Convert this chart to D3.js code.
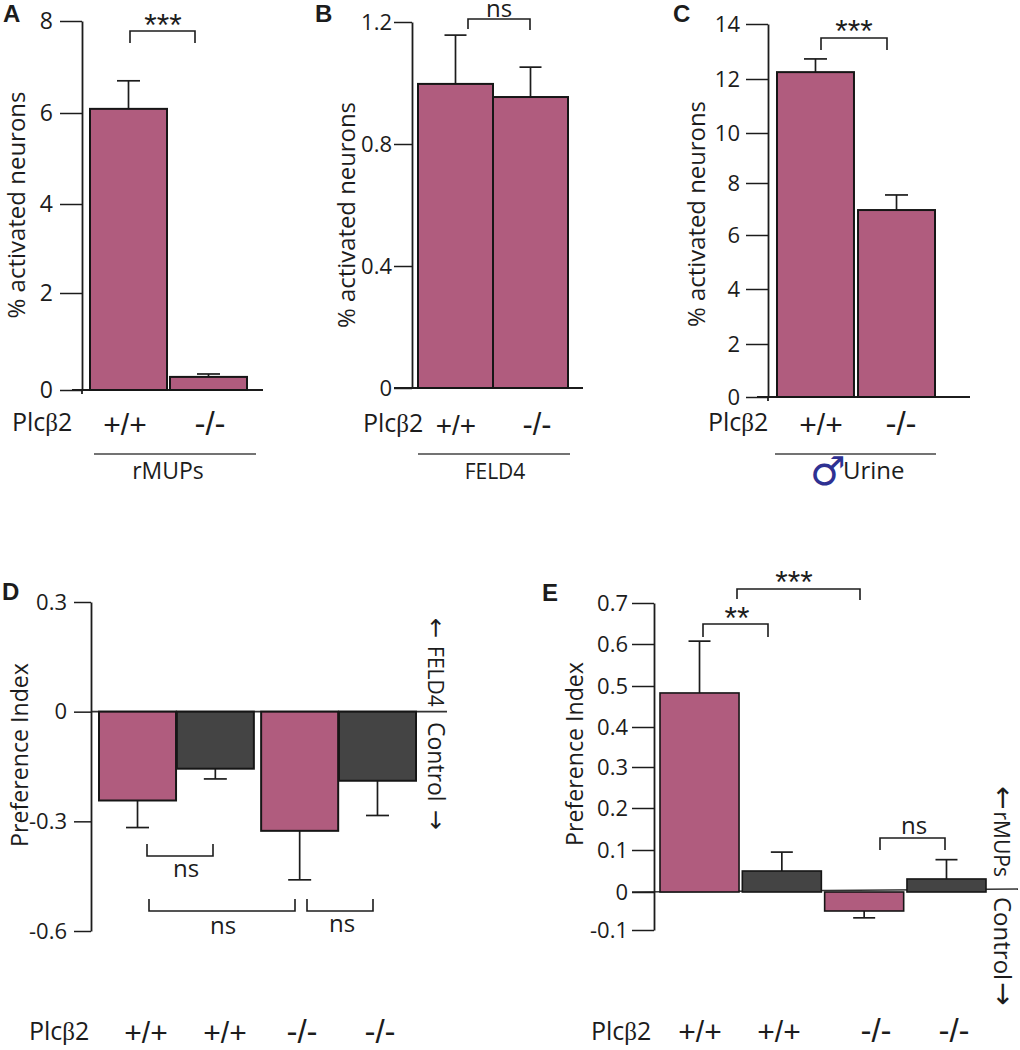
<!DOCTYPE html>
<html><head><meta charset="utf-8">
<script src="https://cdn.jsdelivr.net/npm/d3@7/dist/d3.min.js"></script>
<style>
html,body{margin:0;padding:0;background:#fff}
svg{display:block}
text{font-family:"Open Sans","Noto Sans",sans-serif;fill:#1c1c1c}
</style></head><body><div id="c"></div>
<script>
// ---------- data ----------
const genotypes2 = ['+/+', '-/-'];
const genotypes4 = ['+/+', '+/+', '-/-', '-/-'];

const aTicks = [0, 2, 4, 6, 8];
const aValues = [6.09, 0.27];
const aErrorTops = [6.70, 0.33];

const bTicks = [0, 0.4, 0.8, 1.2];
const bValues = [0.997, 0.954];
const bErrorTops = [1.157, 1.052];

const cTicks = [0, 2, 4, 6, 8, 10, 12, 14];
const cValues = [12.25, 6.96];
const cErrorTops = [12.73, 7.54];

const dTicks = [0.3, 0, -0.3, -0.6];
const dValues = [-0.243, -0.156, -0.326, -0.189];
const dErrorEnds = [-0.317, -0.184, -0.46, -0.284];

const eTicks = [0.7, 0.6, 0.5, 0.4, 0.3, 0.2, 0.1, 0, -0.1];
const eValues = [0.483, 0.05, -0.05, 0.031];
const eErrorEnds = [0.607, 0.095, -0.068, 0.077];

const PINK = '#b05c7e', DARK = '#444444', INK = '#1c1c1c';

const svg = d3.select('#c').append('svg').attr('width', 1020).attr('height', 1050);

function txt(x, y, s, size, opt = {}) {
  const t = svg.append('text').attr('x', x).attr('y', y)
    .attr('text-anchor', opt.anchor || 'middle').attr('font-size', size).text(s);
  if (opt.weight) t.attr('font-weight', opt.weight).style('font-family', '"Liberation Sans",Arial,sans-serif');
  if (opt.rot !== undefined) t.attr('transform', `rotate(${opt.rot} ${x} ${y})`);
  if (opt.len) t.attr('textLength', opt.len).attr('lengthAdjust', 'spacingAndGlyphs');
  return t;
}
// Side labels: text rotated a quarter turn, with an arrow glyph from DejaVu.
function side(x, y, parts) {
  const t = svg.append('text').attr('x', x).attr('y', y).attr('text-anchor', 'start')
    .attr('transform', `rotate(90 ${x} ${y})`);
  parts.forEach(p => {
    const s = t.append('tspan').attr('font-size', p.size).text(p.s);
    if (p.dx) s.attr('dx', p.dx);
    if (p.arrow) s.style('font-family', '"DejaVu Sans",sans-serif');
  });
}
function plc(x, y) {
  const t = svg.append('text').attr('x', x).attr('y', y).attr('font-size', 25);
  t.append('tspan').text('Plc');
  t.append('tspan').text('\u03b2').style('font-family', '"Liberation Serif",serif');
  t.append('tspan').text('2');
}
function stars(x, y, s) {
  svg.append('text').attr('x', x).attr('y', y).attr('text-anchor', 'middle')
    .attr('font-size', 32).style('font-family', '"Liberation Sans",sans-serif').text(s);
}
function geno(cx, y, s, scale = 1) {
  svg.append('text').attr('x', cx).attr('y', y).attr('text-anchor', 'middle')
    .attr('font-size', (s === '-/-' ? 33 : 30) * scale)
    .style('font-family', '"Liberation Sans",sans-serif').text(s);
}
function bracket(x0, x1, yBar, yEnd0, yEnd1) {
  const p = d3.path();
  p.moveTo(x0, yEnd0); p.lineTo(x0, yBar); p.lineTo(x1, yBar); p.lineTo(x1, yEnd1);
  svg.append('path').attr('d', p.toString()).attr('fill', 'none').attr('stroke', INK).attr('stroke-width', 1.6);
}
function hline(x0, x1, y, color = '#333', w = 1.6, y1 = y) {
  svg.append('line').attr('x1', x0).attr('x2', x1).attr('y1', y).attr('y2', y1)
    .attr('stroke', color).attr('stroke-width', w);
}

function panel(o) {
  const y = o.y;
  const axis = d3.axisLeft(y).tickValues(o.ticks).tickSize(o.tickLen).tickSizeOuter(0)
    .tickPadding(o.pad).tickFormat(d => String(d));
  const g = svg.append('g').attr('transform', `translate(${o.axisX},0)`).call(axis);
  g.selectAll('path.domain').attr('stroke', INK).attr('stroke-width', 1.8);
  g.selectAll('.tick line').attr('stroke', INK).attr('stroke-width', 1.5);
  g.selectAll('.tick text').attr('font-size', o.tickFont || 22)
    .style('font-family', '"Open Sans",sans-serif').attr('fill', INK);

  const marks = svg.append('g');
  const cap = o.cap;
  o.values.forEach((v, i) => {
    const cx = o.x(i) + o.w / 2, e = o.errs[i];
    marks.append('line').attr('x1', cx).attr('x2', cx).attr('y1', y(v)).attr('y2', y(e))
      .attr('stroke', INK).attr('stroke-width', 1.7);
    marks.append('line').attr('x1', cx - cap).attr('x2', cx + cap).attr('y1', y(e)).attr('y2', y(e))
      .attr('stroke', INK).attr('stroke-width', 1.7);
  });
  marks.selectAll('rect').data(o.values).join('rect')
    .attr('x', (d, i) => o.x(i)).attr('width', o.w)
    .attr('y', d => Math.min(y(d), y(0)))
    .attr('height', d => Math.abs(y(d) - y(0)))
    .attr('fill', (d, i) => o.colors[i]).attr('stroke', '#161616').attr('stroke-width', o.sw || 2);
}

const band = (n, r0, r1, pi) => d3.scaleBand().domain(d3.range(n)).range([r0, r1]).paddingInner(pi);

// ---------- A ----------
{
  const y = d3.scaleLinear().domain(aTicks).range([390, 293, 204, 113, 21]);
  const xb = band(2, 90, 247, 0.0375);
  hline(72, 263, y(0), INK, 1.8);
  hline(82, 82, y(0), INK, 1.8, y(0) + 4);
  panel({ y, ticks: aTicks, values: aValues, errs: aErrorTops, axisX: 82, tickLen: 22, pad: 7, tickFont: 23,
          x: xb, w: xb.bandwidth(), cap: 11.5, colors: [PINK, PINK] });
  txt(3, 22, 'A', 24, { anchor: 'start', weight: 'bold' });
  txt(25, 205, '% activated neurons', 23, { rot: -90, len: 227 });
  bracket(130, 195, 31, 43, 43);
  stars(163, 36, '***');
  plc(12, 431);
  geno(125, 435, genotypes2[0]); geno(210, 435, genotypes2[1]);
  hline(94, 256, 454, '#444', 1.5);
  txt(168, 479, 'rMUPs', 23);
}
// ---------- B ----------
{
  const y = d3.scaleLinear().domain([0, 1.2]).range([388, 22]);
  const xb = band(2, 418, 568, 0);
  hline(394, 583, y(0), INK, 1.8);
  panel({ y, ticks: bTicks, values: bValues, errs: bErrorTops, axisX: 412, tickLen: 18, pad: 2, tickFont: 22,
          x: xb, w: xb.bandwidth(), cap: 11, colors: [PINK, PINK] });
  txt(315, 22, 'B', 24, { anchor: 'start', weight: 'bold' });
  txt(355, 215, '% activated neurons', 24, { rot: -90, len: 226 });
  bracket(468, 530, 19, 29, 30);
  txt(499, 17, 'ns', 24);
  plc(363, 432);
  geno(456, 435, genotypes2[0], 0.93); geno(537, 435, genotypes2[1], 0.93);
  hline(418, 570, 454, '#444', 1.5);
  txt(495, 479, 'FELD4', 21);
}
// ---------- C ----------
{
  const y = d3.scaleLinear().domain(cTicks).range([397, 344, 289, 235, 183, 133, 79, 24]);
  const xb = band(2, 777, 935, 0.05);
  hline(757, 970, y(0), INK, 1.8);
  hline(768, 768, y(0), INK, 1.8, y(0) + 4);
  panel({ y, ticks: cTicks, values: cValues, errs: cErrorTops, axisX: 768, tickLen: 22, pad: 6, tickFont: 22,
          x: xb, w: xb.bandwidth(), cap: 11.5, colors: [PINK, PINK] });
  txt(673, 22, 'C', 24, { anchor: 'start', weight: 'bold' });
  txt(705, 214, '% activated neurons', 24, { rot: -90, len: 226 });
  bracket(821, 887, 38, 50, 50);
  stars(854, 42, '***');
  plc(708, 431);
  geno(821, 435, genotypes2[0]); geno(901, 435, genotypes2[1]);
  hline(775, 936, 454, '#444', 1.5);
  svg.append('text').attr('x', 810).attr('y', 485).attr('font-size', 40)
    .style('font-family', '"DejaVu Sans",sans-serif').style('fill', '#2e3192').attr('font-weight', 'bold').text('\u2642');
  txt(843, 479, 'Urine', 24, { anchor: 'start' });
}
// ---------- D ----------
{
  const y = d3.scaleLinear().domain([-0.6, 0.3]).range([931, 602]);
  const outer = d3.scaleBand().domain([0, 1]).range([99, 416]).paddingInner(0.045);
  const inner = d3.scaleBand().domain([0, 1]).range([0, outer.bandwidth()]).paddingInner(0.01);
  const x = i => outer(Math.floor(i / 2)) + inner(i % 2);
  hline(91, 447, y(0), '#333', 1.6);
  panel({ y, ticks: dTicks, values: dValues, errs: dErrorEnds, axisX: 91, tickLen: 17, pad: 7, tickFont: 22,
          x, w: inner.bandwidth(), cap: 11.5, colors: [PINK, DARK, PINK, DARK] });
  txt(2, 600, 'D', 24, { anchor: 'start', weight: 'bold' });
  txt(28, 755, 'Preference Index', 24, { rot: -90, len: 184 });
  side(428, 618, [{ s: '\u2190', size: 24, arrow: true }, { s: 'FELD4', size: 21, dx: 8 }]);
  side(428, 722, [{ s: 'Control', size: 23 }, { s: '\u2192', size: 24, arrow: true, dx: 8 }]);
  bracket(147, 213, 856, 844, 844); txt(186, 877, 'ns', 24);
  bracket(149, 295, 911, 899, 899); txt(223, 934, 'ns', 24);
  bracket(307, 373, 911, 899, 899); txt(342, 932, 'ns', 24);
  plc(29, 1040);
  [146, 225, 302, 380].forEach((cx, i) => geno(cx, 1043, genotypes4[i]));
}
// ---------- E ----------
{
  const y = d3.scaleLinear().domain(eTicks).range([603, 644, 686, 727, 767, 808, 850, 892, 930]);
  const xb = band(4, 660, 986, 0.04);
  hline(632, 1018, y(0), '#333', 1.4, y(0) - 3);
  panel({ y, ticks: eTicks, values: eValues, errs: eErrorEnds, axisX: 654, tickLen: 22, pad: 4, tickFont: 22,
          x: xb, w: xb.bandwidth(), cap: 11, colors: [PINK, DARK, PINK, DARK], sw: 1.6 });
  txt(542, 601, 'E', 24, { anchor: 'start', weight: 'bold' });
  txt(583, 754, 'Preference Index', 24, { rot: -90, len: 184 });
  side(994, 786, [{ s: '\u2190', size: 28, arrow: true }, { s: 'rMUPs', size: 21, dx: 2 }]);
  side(994, 897, [{ s: 'Control', size: 24 }, { s: '\u2192', size: 28, arrow: true, dx: 2 }]);
  bracket(737, 860, 589, 599, 600); stars(794, 593, '***');
  bracket(703, 768, 624, 637, 637); stars(737, 629, '**');
  bracket(880, 945, 838, 850, 850); txt(914, 834, 'ns', 24);
  plc(591, 1040);
  [700, 779, 876, 954].forEach((cx, i) => geno(cx, 1042, genotypes4[i]));
}
</script></body></html>
